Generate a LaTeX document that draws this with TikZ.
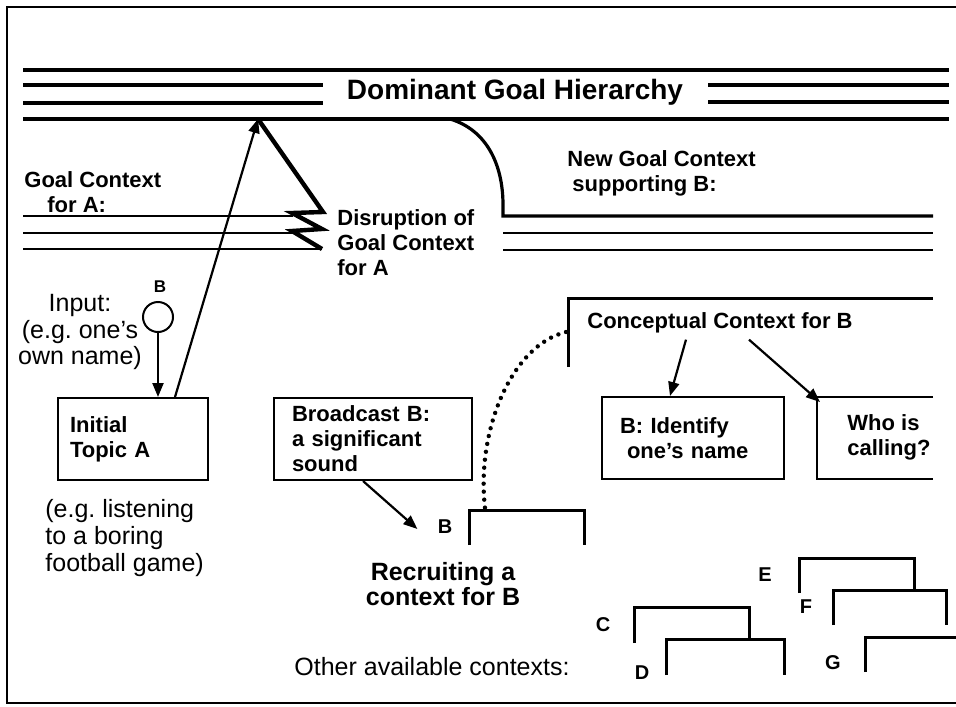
\documentclass[tikz,border=0pt]{standalone}
\usepackage{fontspec}
\setmainfont{Liberation Sans}
\usetikzlibrary{arrows.meta,calc}
\frenchspacing

\begin{document}
\begin{tikzpicture}[x=0.5pt,y=-0.5pt,
  txt/.style={font=\bfseries\fontsize{11}{12.5}\selectfont,inner sep=1pt},
  plain/.style={font=\fontsize{12.5}{13.3}\selectfont,inner sep=1pt},
  box/.style={draw,line width=1pt,minimum height=41pt,txt},
  tag/.style={font=\bfseries\fontsize{10}{10}\selectfont,inner sep=1pt},
  lvl/.style={line width=1.6pt},
  gl/.style={line width=1.1pt},
  ctx/.style={line width=1.5pt},
  arr/.style={line width=1.1pt,-{Triangle[length=7pt,width=5.5pt]}}]

  \useasboundingbox (0,0) rectangle (956,706);

  % Frame (open on the right)
  \draw[line width=1pt] (956,7) -- (7,7) -- (7,703) -- (956,703);

  % Dominant goal hierarchy
  \draw[lvl] (23,70) -- (949,70);
  \draw[lvl] (23,85) -- (323,85);
  \draw[lvl] (23,103) -- (323,103);
  \draw[lvl] (708,85) -- (949,85);
  \draw[lvl] (708,102) -- (949,102);
  \draw[lvl] (23,119) -- (949,119);
  \node[font=\bfseries\fontsize{14}{14}\selectfont] (dgh) at (515,92) {Dominant Goal Hierarchy};
  \coordinate (top) at (258,119);

  % Goal context for A and its disruption
  \draw[gl] (23,216) -- (293,216);
  \draw[gl] (23,233) -- (293,233);
  \draw[gl] (23,249) -- (322,249);
  \draw[line width=2.2pt] (top) -- (323,212) -- (292,213) -- (322,229) -- (292,231) -- (322,249);
  \node[txt,anchor=west,align=left] (gca) at (22,192) {Goal Context\\\hspace*{11.5pt}for A:};
  \node[txt,anchor=west,align=left] (dis) at (335,243) {Disruption of\\Goal Context\\for A};

  % New goal context supporting B
  \draw[lvl] (450,119) .. controls (487,130) and (503,165) .. (503,205) -- (503,216) -- (933,216);
  \draw[gl] (503,233) -- (933,233);
  \draw[gl] (503,250) -- (933,250);
  \node[txt,anchor=west,align=left] (ngc) at (565,173) {New Goal Context\\\hspace*{2.5pt}supporting B:};

  % Input
  \node[tag,font=\bfseries\fontsize{8.5}{8.5}\selectfont] (bin) at (160,287) {B};
  \node[draw,circle,line width=1pt,minimum size=15pt,inner sep=0pt] (inp) at (158,317) {};
  \node[plain,align=center] (inpt) at (80,332) {Input:\\(e.g. one's\\own name)};

  % Initial topic A
  \node[box,text width=63pt,inner xsep=6pt,align=left] (init) at (133,439) {Initial\\Topic A};
  \node[plain,anchor=west,align=left] (ega) at (43,538) {(e.g. listening\\to a boring\\football game)};
  \draw[arr] (inp) -- ([xshift=12.5pt]init.north);
  \draw[arr] ([xshift=21pt]init.north) -- (top);

  % Broadcast and recruiting
  \node[box,text width=81pt,inner xsep=9pt,align=left] (brd) at (373,439) {Broadcast B:\\a significant\\sound};
  \coordinate (rec) at (469,510);
  \draw[ctx] (469,545) -- (rec) -- (584,510) -- (584,545);
  \node[tag] (brec) at (445,527) {B};
  \draw[arr] ([xshift=-5pt]brd.south) -- ([xshift=-9pt,yshift=-1pt]brec.west);
  \node[txt,font=\bfseries\fontsize{12.5}{12.5}\selectfont,align=center] (rct) at (443,584) {Recruiting a\\context for B};

  % Conceptual context for B
  \coordinate (ccbr) at (566,332);
  \draw[ctx] (568,367) -- (568,298) -- (933,298);
  \node[txt] (ccb) at (720,323) {Conceptual Context for B};
  \draw[line width=2.2pt,line cap=round,dash pattern=on 0pt off 4pt] (ccbr) .. controls (512,345) and (476,430) .. (485,508);
  \node[box,text width=73pt,inner xsep=9pt,align=left] (ident) at (693,438) {B: Identify\\\hspace*{3.5pt}one's name};
  \coordinate (whobox) at (817,397);
  \draw[line width=1pt] (933,397) -- (whobox) -- (817,479) -- (933,479);
  \node[txt,anchor=west,align=left] (who) at (845,437) {Who is\\calling?};
  \draw[arr] ([xshift=-17pt,yshift=-2pt]ccb.south) -- ([xshift=-11.5pt]ident.north);
  \draw[arr] ([xshift=14.5pt,yshift=-2pt]ccb.south) -- ([xshift=1.5pt,yshift=-2.5pt]whobox);

  % Other available contexts
  \node[plain] (oth) at (432,667) {Other available contexts:};
  \draw[ctx] (634,643) -- (634,607) -- (749,607) -- (749,639);
  \draw[ctx] (666,675) -- (666,639) -- (784,639) -- (784,675);
  \draw[ctx] (799,593) -- (799,558) -- (914,558) -- (914,590);
  \draw[ctx] (833,625) -- (833,590) -- (946,590) -- (946,625);
  \draw[ctx] (865,672) -- (865,637) -- (956,637);
  \node[tag] (lc) at (603,625) {C};
  \node[tag] (ld) at (642,673) {D};
  \node[tag] (le) at (765,575) {E};
  \node[tag] (lf) at (806,607) {F};
  \node[tag] (lg) at (833,663) {G};
\end{tikzpicture}
\end{document}
